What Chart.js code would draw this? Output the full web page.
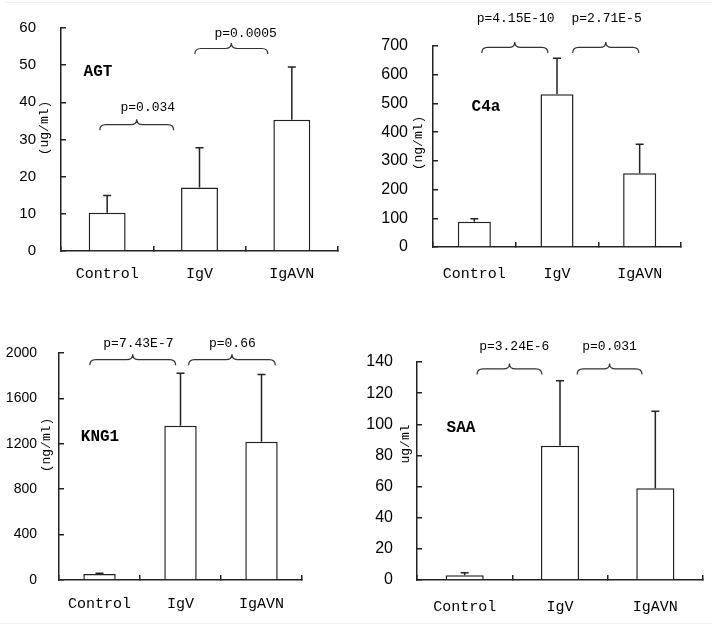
<!DOCTYPE html>
<html>
<head>
<meta charset="utf-8">
<script src="https://cdn.jsdelivr.net/npm/chart.js@4/dist/chart.umd.min.js"></script>
<style>
  body { margin: 0; background: #fff; }
  .panel { position: absolute; }
  .rule { position: absolute; height: 1px; background: #eef1f6; }
</style>
</head>
<body>
<div class="rule" style="left:5px;top:2px;width:707px"></div>
<div class="rule" style="left:0;top:623px;width:712px"></div>
<canvas id="c-agt" class="panel" width="356" height="300" style="left:0;top:0"></canvas>
<canvas id="c-c4a" class="panel" width="356" height="300" style="left:356px;top:0"></canvas>
<canvas id="c-kng1" class="panel" width="356" height="322" style="left:0;top:300px"></canvas>
<canvas id="c-saa" class="panel" width="356" height="322" style="left:356px;top:300px"></canvas>
<script>
// groupes
const categories = ['Control', 'IgV', 'IgAVN'];

// moyennes et écarts-types
const agtMeans = [10.3, 17.1, 35.3];
const agtSD = [4.6, 10.7, 14.2];
const c4aMeans = [88, 532, 257];
const c4aSD = [10, 125, 101];
const kng1Means = [53, 1360, 1217];
const kng1SD = [6, 462, 593];
const saaMeans = [3.0, 86.2, 59];
const saaSD = [1.7, 41.8, 49.3];

// p-values entre groupes voisins
const agtP = ['p=0.034', 'p=0.0005'];
const c4aP = ['p=4.15E-10', 'p=2.71E-5'];
const kng1P = ['p=7.43E-7', 'p=0.66'];
const saaP = ['p=3.24E-6', 'p=0.031'];

// axes
const agtAxis = { max: 60, step: 10 };
const c4aAxis = { max: 700, step: 100 };
const kng1Axis = { max: 2000, step: 400 };
const saaAxis = { max: 140, step: 20 };

const INK = '#222';
const MONO = '"Liberation Mono", "DejaVu Sans Mono", monospace';

// barres d'erreur + accolades + textes
const annotPlugin = {
  id: 'annot',
  afterDatasetsDraw(chart, args, opts) {
    const ctx = chart.ctx;
    const ys = chart.scales.y;
    const meta = chart.getDatasetMeta(0);
    ctx.save();
    ctx.strokeStyle = INK;
    ctx.lineWidth = 1.5;
    opts.sd.forEach((sd, i) => {
      const v = opts.means[i];
      const x = meta.data[i].x;
      const y0 = ys.getPixelForValue(v);
      const y1 = ys.getPixelForValue(v + sd);
      ctx.beginPath();
      ctx.moveTo(x, y0);
      ctx.lineTo(x, y1);
      ctx.moveTo(x - 4, y1);
      ctx.lineTo(x + 4, y1);
      ctx.stroke();
    });
    ctx.restore();
  },
  afterDraw(chart, args, opts) {
    const ctx = chart.ctx;
    const ys = chart.scales.y;
    const area = chart.chartArea;
    const catW = (area.right - area.left) / categories.length;
    const px = (f) => area.left + catW * (f + 0.5);
    ctx.save();
    ctx.strokeStyle = '#333';
    ctx.lineWidth = 1.2;
    opts.braces.forEach((b, i) => {
      const x1 = px(b.from), x2 = px(b.to), xm = (x1 + x2) / 2;
      const yb = ys.getPixelForValue(b.y);
      const h = 11, r = 6;
      ctx.beginPath();
      ctx.moveTo(x1, yb);
      ctx.quadraticCurveTo(x1, yb - h / 2, x1 + r, yb - h / 2);
      ctx.lineTo(xm - r, yb - h / 2);
      ctx.quadraticCurveTo(xm, yb - h / 2, xm, yb - h);
      ctx.quadraticCurveTo(xm, yb - h / 2, xm + r, yb - h / 2);
      ctx.lineTo(x2 - r, yb - h / 2);
      ctx.quadraticCurveTo(x2, yb - h / 2, x2, yb);
      ctx.stroke();
      ctx.fillStyle = '#000';
      ctx.font = '13px ' + MONO;
      ctx.textAlign = 'center';
      ctx.textBaseline = 'middle';
      ctx.fillText(opts.pvals[i], px(b.tx), ys.getPixelForValue(b.ty));
    });
    // titre du panneau
    ctx.fillStyle = '#000';
    ctx.font = 'bold 16px ' + MONO;
    ctx.textAlign = 'center';
    ctx.textBaseline = 'middle';
    ctx.fillText(opts.title, opts.titlePos[0], opts.titlePos[1]);
    // unité en vertical
    ctx.font = '13px ' + MONO;
    ctx.translate(opts.unitPos[0], opts.unitPos[1]);
    ctx.rotate(-Math.PI / 2);
    ctx.fillText(opts.unit, 0, 0);
    ctx.restore();
  }
};

function makePanel(id, means, sd, axis, pvals, cfg) {
  const canvas = document.getElementById(id);
  const H = canvas.height;
  return new Chart(canvas, {
    type: 'bar',
    data: {
      labels: categories,
      datasets: [{
        data: means,
        backgroundColor: '#fff',
        borderColor: INK,
        borderWidth: 1.5,
        barPercentage: 0.4,
        categoryPercentage: 1
      }]
    },
    options: {
      responsive: false,
      animation: false,
      layout: { padding: { top: cfg.area[1], right: canvas.width - cfg.area[2], left: 0, bottom: 0 } },
      plugins: {
        legend: { display: false },
        tooltip: { enabled: false },
        annot: { means, sd, pvals, braces: cfg.braces, title: cfg.title, titlePos: cfg.titlePos, unit: cfg.unit, unitPos: cfg.unitPos }
      },
      scales: {
        x: {
          grid: { drawOnChartArea: false, tickLength: -5, color: INK, lineWidth: 1.5, offset: true },
          border: { color: INK, width: 1.5 },
          ticks: { color: '#000', font: { family: MONO, size: 15 }, padding: cfg.xPad },
          afterFit: (s) => { s.height = H - cfg.area[3]; s.paddingLeft = 0; s.paddingRight = 0; }
        },
        y: {
          min: 0,
          max: axis.max,
          grid: { drawOnChartArea: false, tickLength: -5, color: INK, lineWidth: 1.5 },
          border: { color: INK, width: 1.5 },
          ticks: {
            stepSize: axis.step,
            color: '#000',
            font: { family: '"Liberation Sans", Arial, sans-serif', size: cfg.tickSize },
            padding: cfg.yPad,
            callback: (v) => String(v)
          },
          afterFit: (s) => { s.width = cfg.area[0]; s.paddingTop = 0; s.paddingBottom = 0; }
        }
      }
    },
    plugins: [annotPlugin]
  });
}

makePanel('c-agt', agtMeans, agtSD, agtAxis, agtP, {
  area: [61, 28, 338, 251], xPad: 19, yPad: 30, tickSize: 15,
  braces: [{ from: -0.08, to: 0.72, y: 32.5, tx: 0.44, ty: 38.7 }, { from: 0.95, to: 1.74, y: 53, tx: 1.5, ty: 58.6 }],
  title: 'AGT', titlePos: [98, 72], unit: '(ug/ml)', unitPos: [45, 128]
});
makePanel('c-c4a', c4aMeans, c4aSD, c4aAxis, c4aP, {
  area: [77, 46, 325, 247], xPad: 23, yPad: 30, tickSize: 16,
  braces: [{ from: 0.09, to: 0.89, y: 676, tx: 0.5, ty: 794 }, { from: 1.19, to: 1.99, y: 676, tx: 1.6, ty: 794 }],
  title: 'C4a', titlePos: [130, 107], unit: '(ng/ml)', unitPos: [63, 143]
});
makePanel('c-kng1', kng1Means, kng1SD, kng1Axis, kng1P, {
  area: [59, 53, 302, 280], xPad: 20, yPad: 27, tickSize: 14,
  braces: [{ from: -0.12, to: 0.94, y: 1893, tx: 0.48, ty: 2086 }, { from: 1.1, to: 2.17, y: 1893, tx: 1.64, ty: 2086 }],
  title: 'KNG1', titlePos: [100, 137], unit: '(ng/ml)', unitPos: [47, 145]
});
makePanel('c-saa', saaMeans, saaSD, saaAxis, saaP, {
  area: [61, 62, 347, 280], xPad: 23, yPad: 29, tickSize: 16,
  braces: [{ from: 0.13, to: 0.81, y: 132, tx: 0.52, ty: 150 }, { from: 1.18, to: 1.86, y: 132, tx: 1.52, ty: 150 }],
  title: 'SAA', titlePos: [105, 128], unit: 'ug/ml', unitPos: [50, 144]
});
</script>
</body>
</html>
